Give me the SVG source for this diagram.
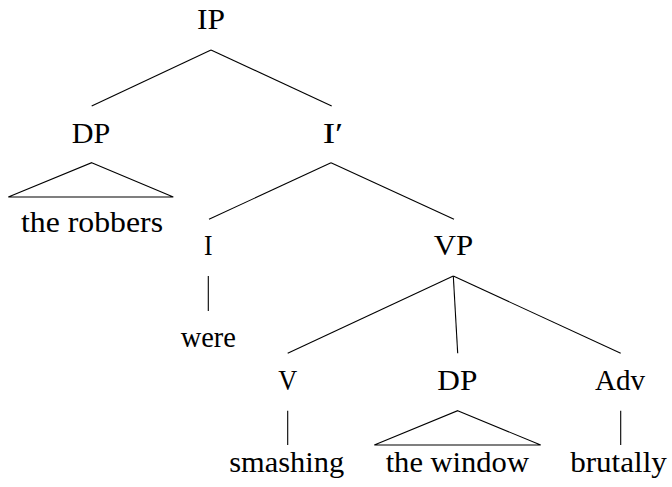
<svg xmlns="http://www.w3.org/2000/svg" width="672" height="487" viewBox="0 0 672 487">
<style>
.t{font-family:'Liberation Serif','DejaVu Serif',serif;font-size:30px;fill:#000;text-anchor:middle}
.e{fill:none;stroke:#000;stroke-width:1.1}
</style>
<rect width="672" height="487" fill="#fff"/>
<g id="edges" class="e">
<line x1="211" y1="50" x2="91.7" y2="106"/>
<line x1="211" y1="50" x2="331.7" y2="106"/>
<line x1="331" y1="162.7" x2="209" y2="219.3"/>
<line x1="331" y1="162.7" x2="454" y2="219.3"/>
<line x1="208.3" y1="276" x2="208.3" y2="311"/>
<line x1="453.3" y1="276" x2="287.7" y2="353.3"/>
<line x1="453.3" y1="276" x2="457.7" y2="353.3"/>
<line x1="453.3" y1="276" x2="620.7" y2="353.3"/>
<line x1="287.7" y1="410.7" x2="287.7" y2="445"/>
<line x1="620.7" y1="410.7" x2="620.7" y2="445"/>
<polygon points="91.7,162.7 173.3,197 8.3,197"/>
<polygon points="457.7,410.7 540.7,445 374.3,445"/>
</g>
<g class="t">
<g id="IP"><text x="211" y="29" textLength="28" lengthAdjust="spacingAndGlyphs">IP</text></g>
<g id="DP1"><text x="91" y="142.5" textLength="38.5" lengthAdjust="spacingAndGlyphs">DP</text></g>
<g id="Ibar"><text x="333" y="142.5" textLength="20.6" lengthAdjust="spacingAndGlyphs">I′</text></g>
<g id="robbers"><text x="92" y="231.5" textLength="142" lengthAdjust="spacingAndGlyphs">the robbers</text></g>
<g id="I"><text x="208.3" y="255" textLength="8.5" lengthAdjust="spacingAndGlyphs">I</text></g>
<g id="VP"><text x="453.5" y="255" textLength="39.5" lengthAdjust="spacingAndGlyphs">VP</text></g>
<g id="were"><text x="208.3" y="346.7" textLength="55.3" lengthAdjust="spacingAndGlyphs">were</text></g>
<g id="V"><text x="287.8" y="390" textLength="19" lengthAdjust="spacingAndGlyphs">V</text></g>
<g id="DP2"><text x="457.3" y="390" textLength="40" lengthAdjust="spacingAndGlyphs">DP</text></g>
<g id="Adv"><text x="620" y="390" textLength="50" lengthAdjust="spacingAndGlyphs">Adv</text></g>
<g id="smashing"><text x="286.7" y="471.5" textLength="115" lengthAdjust="spacingAndGlyphs">smashing</text></g>
<g id="window"><text x="457.3" y="471.5" textLength="143.3" lengthAdjust="spacingAndGlyphs">the window</text></g>
<g id="brutally"><text x="618.5" y="471.5" textLength="96.7" lengthAdjust="spacingAndGlyphs">brutally</text></g>
</g>
</svg>
